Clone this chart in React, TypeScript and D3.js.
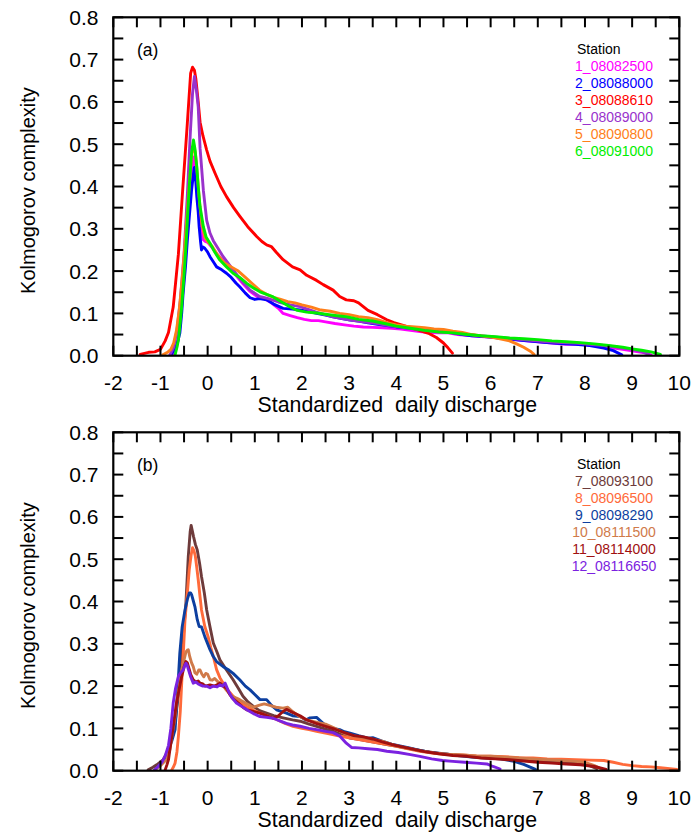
import React from "react";
import * as d3 from "d3";

type P = [number, number];

const stationsA = ["1_08082500", "2_08088000", "3_08088610", "4_08089000", "5_08090800", "6_08091000"];
const colorsA = ["#ff00ff", "#0000ff", "#ff0000", "#9932cc", "#ff7f1a", "#00ee00"];
const stationsB = ["7_08093100", "8_08096500", "9_08098290", "10_08111500", "11_08114000", "12_08116650"];
const colorsB = ["#6e3b3b", "#ff6a3a", "#0d3fa0", "#d07a4a", "#a01010", "#7b22e0"];

const xTickLabels = [-2, -1, 0, 1, 2, 3, 4, 5, 6, 7, 8, 9, 10];
const yTickLabels = [0, 0.1, 0.2, 0.3, 0.4, 0.5, 0.6, 0.7, 0.8];

const s1: P[] = [[-0.72,0.002],[-0.66,0.02],[-0.6,0.06],[-0.54,0.13],[-0.47,0.25],[-0.4,0.37],[-0.34,0.44],[-0.29,0.47],[-0.25,0.44],[-0.2,0.37],[-0.15,0.31],[-0.1,0.275],[-0.05,0.27],[0.0,0.268],[0.1,0.255],[0.2,0.24],[0.3,0.228],[0.45,0.21],[0.6,0.19],[0.75,0.17],[0.9,0.152],[1.05,0.14],[1.2,0.135],[1.35,0.125],[1.5,0.112],[1.6,0.1],[1.75,0.095],[1.9,0.09],[2.05,0.086],[2.2,0.083],[2.35,0.083],[2.5,0.08],[2.7,0.076],[2.9,0.073],[3.1,0.07],[3.3,0.068],[3.5,0.067],[3.7,0.066],[3.9,0.065],[4.1,0.063],[4.3,0.06],[4.5,0.057],[4.7,0.055],[4.9,0.054],[5.1,0.054],[5.3,0.05],[5.5,0.048],[5.8,0.045],[6.1,0.043],[6.4,0.04],[6.7,0.036],[7.0,0.033],[7.3,0.03],[7.6,0.027],[7.9,0.027],[8.2,0.024],[8.5,0.02],[8.8,0.015],[9.1,0.01],[9.3,0.006],[9.4,0.002]];
const s2: P[] = [[-0.78,0.002],[-0.7,0.015],[-0.64,0.03],[-0.59,0.053],[-0.55,0.1],[-0.52,0.147],[-0.47,0.21],[-0.43,0.273],[-0.38,0.34],[-0.34,0.392],[-0.3,0.43],[-0.28,0.445],[-0.25,0.41],[-0.23,0.376],[-0.2,0.34],[-0.18,0.305],[-0.15,0.27],[-0.13,0.25],[-0.1,0.257],[-0.06,0.254],[0.0,0.245],[0.05,0.234],[0.12,0.222],[0.19,0.21],[0.3,0.203],[0.4,0.195],[0.5,0.185],[0.6,0.172],[0.68,0.163],[0.8,0.148],[0.9,0.137],[1.0,0.133],[1.1,0.135],[1.25,0.132],[1.4,0.122],[1.6,0.112],[1.8,0.11],[1.96,0.108],[2.15,0.104],[2.31,0.1],[2.5,0.096],[2.66,0.092],[2.85,0.088],[3.0,0.085],[3.2,0.082],[3.4,0.078],[3.6,0.074],[3.8,0.071],[4.0,0.068],[4.2,0.066],[4.4,0.064],[4.6,0.062],[4.8,0.06],[5.0,0.058],[5.2,0.054],[5.4,0.05],[5.6,0.047],[5.8,0.046],[6.0,0.044],[6.3,0.04],[6.6,0.037],[6.9,0.034],[7.2,0.031],[7.5,0.029],[7.8,0.027],[8.1,0.024],[8.4,0.018],[8.6,0.012],[8.78,0.002]];
const s3: P[] = [[-1.43,0.003],[-1.25,0.008],[-1.12,0.009],[-1.0,0.015],[-0.9,0.035],[-0.83,0.055],[-0.73,0.115],[-0.62,0.24],[-0.53,0.39],[-0.43,0.55],[-0.36,0.668],[-0.32,0.682],[-0.28,0.675],[-0.25,0.655],[-0.2,0.6],[-0.16,0.552],[-0.1,0.52],[-0.02,0.486],[0.05,0.46],[0.155,0.432],[0.28,0.4],[0.4,0.376],[0.55,0.35],[0.68,0.33],[0.85,0.305],[1.04,0.282],[1.15,0.27],[1.25,0.262],[1.35,0.258],[1.45,0.245],[1.6,0.227],[1.8,0.21],[1.96,0.203],[2.1,0.19],[2.31,0.178],[2.45,0.168],[2.66,0.155],[2.8,0.14],[2.94,0.132],[3.1,0.13],[3.2,0.125],[3.4,0.107],[3.6,0.097],[3.8,0.085],[3.95,0.078],[4.2,0.07],[4.5,0.059],[4.7,0.052],[4.85,0.043],[5.0,0.03],[5.1,0.018],[5.19,0.006]];
const s4: P[] = [[-0.8,0.002],[-0.72,0.02],[-0.65,0.06],[-0.58,0.13],[-0.5,0.24],[-0.43,0.38],[-0.37,0.52],[-0.32,0.62],[-0.28,0.66],[-0.24,0.63],[-0.2,0.589],[-0.16,0.49],[-0.09,0.39],[-0.02,0.32],[0.05,0.29],[0.12,0.272],[0.33,0.234],[0.54,0.203],[0.7,0.18],[0.9,0.155],[1.1,0.14],[1.25,0.136],[1.5,0.127],[1.75,0.12],[1.96,0.116],[2.3,0.103],[2.66,0.092],[3.02,0.084],[3.3,0.08],[3.6,0.076],[3.9,0.07],[4.2,0.066],[4.5,0.062],[4.8,0.058],[5.1,0.056],[5.4,0.052],[5.7,0.048],[6.0,0.045],[6.3,0.042],[6.6,0.039],[6.9,0.036],[7.2,0.033],[7.5,0.031],[7.8,0.03],[8.1,0.027],[8.4,0.024],[8.7,0.02],[9.0,0.015],[9.2,0.01],[9.35,0.003]];
const s5: P[] = [[-0.95,0.002],[-0.85,0.008],[-0.78,0.015],[-0.72,0.03],[-0.66,0.06],[-0.6,0.11],[-0.54,0.18],[-0.47,0.28],[-0.4,0.39],[-0.35,0.46],[-0.3,0.5],[-0.26,0.48],[-0.22,0.43],[-0.17,0.36],[-0.12,0.31],[-0.06,0.28],[0.0,0.27],[0.1,0.258],[0.2,0.24],[0.35,0.22],[0.5,0.21],[0.65,0.2],[0.8,0.185],[0.95,0.17],[1.1,0.155],[1.25,0.145],[1.4,0.138],[1.55,0.133],[1.7,0.128],[1.85,0.125],[2.0,0.12],[2.2,0.115],[2.4,0.108],[2.6,0.105],[2.8,0.1],[3.0,0.097],[3.2,0.092],[3.4,0.09],[3.6,0.085],[3.8,0.078],[4.0,0.073],[4.2,0.07],[4.4,0.068],[4.6,0.066],[4.8,0.063],[5.0,0.062],[5.2,0.058],[5.4,0.055],[5.6,0.05],[5.8,0.047],[6.0,0.044],[6.2,0.04],[6.4,0.035],[6.55,0.028],[6.7,0.02],[6.85,0.01],[6.92,0.003]];
const s6: P[] = [[-0.69,0.002],[-0.65,0.02],[-0.62,0.037],[-0.58,0.08],[-0.55,0.116],[-0.5,0.19],[-0.46,0.258],[-0.42,0.34],[-0.38,0.415],[-0.34,0.48],[-0.3,0.51],[-0.27,0.49],[-0.23,0.447],[-0.2,0.4],[-0.16,0.352],[-0.12,0.325],[-0.09,0.305],[-0.03,0.28],[0.05,0.266],[0.15,0.245],[0.26,0.226],[0.4,0.21],[0.54,0.195],[0.68,0.185],[0.83,0.171],[0.97,0.16],[1.11,0.151],[1.25,0.145],[1.39,0.139],[1.55,0.128],[1.74,0.116],[1.9,0.107],[2.1,0.103],[2.31,0.101],[2.5,0.098],[2.7,0.095],[2.94,0.092],[3.2,0.086],[3.5,0.082],[3.8,0.075],[4.0,0.07],[4.3,0.065],[4.6,0.06],[4.9,0.056],[5.2,0.054],[5.5,0.05],[5.8,0.047],[6.1,0.045],[6.4,0.042],[6.7,0.04],[7.0,0.038],[7.3,0.035],[7.6,0.033],[7.9,0.031],[8.2,0.028],[8.5,0.024],[8.8,0.02],[9.0,0.016],[9.2,0.013],[9.4,0.009],[9.6,0.003]];

const s7: P[] = [[-1.26,0.002],[-1.16,0.008],[-1.08,0.014],[-0.94,0.026],[-0.83,0.05],[-0.76,0.08],[-0.69,0.113],[-0.62,0.18],[-0.55,0.27],[-0.5,0.34],[-0.46,0.397],[-0.41,0.507],[-0.37,0.565],[-0.35,0.58],[-0.32,0.565],[-0.3,0.554],[-0.26,0.535],[-0.22,0.522],[-0.17,0.49],[-0.13,0.459],[-0.07,0.42],[-0.02,0.38],[0.05,0.34],[0.12,0.302],[0.2,0.28],[0.26,0.262],[0.4,0.238],[0.54,0.215],[0.65,0.195],[0.75,0.176],[0.86,0.162],[0.97,0.152],[1.1,0.142],[1.25,0.136],[1.4,0.13],[1.6,0.125],[1.8,0.12],[1.96,0.117],[2.15,0.11],[2.31,0.105],[2.5,0.098],[2.66,0.093],[2.85,0.085],[3.02,0.077],[3.2,0.074],[3.4,0.07],[3.6,0.066],[3.8,0.062],[4.0,0.058],[4.3,0.052],[4.6,0.046],[4.9,0.041],[5.2,0.038],[5.5,0.035],[5.8,0.032],[6.1,0.03],[6.4,0.028],[6.7,0.026],[7.0,0.024],[7.3,0.022],[7.6,0.02],[7.9,0.017],[8.1,0.012],[8.25,0.005]];
const s8: P[] = [[-0.76,0.002],[-0.72,0.01],[-0.69,0.018],[-0.65,0.045],[-0.62,0.081],[-0.58,0.14],[-0.55,0.207],[-0.51,0.29],[-0.48,0.357],[-0.43,0.42],[-0.39,0.475],[-0.35,0.51],[-0.32,0.527],[-0.29,0.52],[-0.26,0.507],[-0.23,0.48],[-0.2,0.452],[-0.16,0.41],[-0.13,0.38],[-0.06,0.341],[0.01,0.317],[0.07,0.29],[0.12,0.27],[0.19,0.239],[0.26,0.22],[0.33,0.207],[0.43,0.19],[0.54,0.176],[0.68,0.163],[0.83,0.152],[0.97,0.143],[1.11,0.136],[1.3,0.128],[1.46,0.121],[1.64,0.112],[1.81,0.105],[2.0,0.1],[2.15,0.097],[2.31,0.093],[2.55,0.088],[2.8,0.082],[3.0,0.078],[3.3,0.072],[3.6,0.066],[3.9,0.06],[4.2,0.053],[4.5,0.046],[4.8,0.041],[5.1,0.038],[5.4,0.037],[5.7,0.035],[6.0,0.034],[6.3,0.033],[6.6,0.031],[6.9,0.03],[7.2,0.028],[7.5,0.027],[7.8,0.026],[8.1,0.025],[8.4,0.024],[8.6,0.02],[8.8,0.015],[9.0,0.012],[9.2,0.01],[9.4,0.009],[9.6,0.007],[9.8,0.005],[9.95,0.003]];
const s9: P[] = [[-1.12,0.002],[-1.05,0.01],[-0.97,0.018],[-0.9,0.03],[-0.83,0.05],[-0.76,0.07],[-0.69,0.097],[-0.64,0.18],[-0.59,0.278],[-0.54,0.34],[-0.48,0.38],[-0.43,0.405],[-0.39,0.42],[-0.36,0.42],[-0.34,0.416],[-0.3,0.4],[-0.27,0.388],[-0.22,0.357],[-0.18,0.341],[-0.13,0.34],[-0.06,0.317],[0.05,0.286],[0.12,0.27],[0.19,0.258],[0.33,0.246],[0.45,0.238],[0.54,0.23],[0.68,0.215],[0.8,0.2],[0.9,0.191],[1.0,0.18],[1.11,0.168],[1.25,0.168],[1.35,0.155],[1.46,0.144],[1.56,0.14],[1.67,0.136],[1.8,0.13],[1.96,0.128],[2.08,0.12],[2.17,0.125],[2.31,0.126],[2.42,0.115],[2.52,0.105],[2.66,0.1],[2.8,0.097],[2.9,0.092],[3.02,0.089],[3.2,0.083],[3.4,0.077],[3.5,0.078],[3.7,0.07],[3.9,0.063],[4.1,0.058],[4.3,0.053],[4.5,0.048],[4.7,0.044],[5.0,0.04],[5.3,0.036],[5.6,0.032],[5.9,0.03],[6.2,0.028],[6.5,0.022],[6.7,0.015],[6.85,0.008],[6.95,0.003]];
const s10: P[] = [[-1.12,0.002],[-1.0,0.012],[-0.93,0.02],[-0.87,0.026],[-0.8,0.05],[-0.76,0.081],[-0.7,0.12],[-0.66,0.16],[-0.6,0.2],[-0.55,0.238],[-0.5,0.262],[-0.46,0.281],[-0.43,0.285],[-0.41,0.286],[-0.38,0.27],[-0.34,0.255],[-0.305,0.246],[-0.27,0.232],[-0.23,0.228],[-0.19,0.238],[-0.16,0.238],[-0.12,0.228],[-0.08,0.222],[-0.04,0.23],[0.0,0.228],[0.05,0.215],[0.1,0.214],[0.15,0.218],[0.22,0.21],[0.3,0.205],[0.4,0.19],[0.5,0.178],[0.6,0.172],[0.68,0.168],[0.8,0.16],[0.97,0.15],[1.1,0.155],[1.2,0.158],[1.3,0.155],[1.45,0.15],[1.6,0.148],[1.7,0.15],[1.8,0.14],[1.95,0.128],[2.1,0.12],[2.3,0.115],[2.5,0.11],[2.7,0.1],[2.9,0.088],[3.1,0.082],[3.3,0.078],[3.5,0.074],[3.7,0.07],[3.9,0.062],[4.1,0.056],[4.3,0.052],[4.5,0.047],[4.8,0.042],[5.1,0.039],[5.4,0.037],[5.7,0.035],[6.0,0.034],[6.3,0.032],[6.6,0.03],[6.9,0.028],[7.2,0.026],[7.5,0.024],[7.8,0.022],[8.0,0.02],[8.2,0.012],[8.35,0.004]];
const s11: P[] = [[-0.9,0.002],[-0.86,0.015],[-0.83,0.026],[-0.8,0.05],[-0.76,0.08],[-0.71,0.12],[-0.66,0.16],[-0.6,0.195],[-0.55,0.223],[-0.5,0.245],[-0.46,0.258],[-0.43,0.255],[-0.41,0.247],[-0.36,0.228],[-0.305,0.215],[-0.25,0.21],[-0.2,0.212],[-0.16,0.207],[-0.1,0.205],[-0.05,0.2],[0.05,0.203],[0.15,0.2],[0.26,0.207],[0.33,0.2],[0.4,0.195],[0.47,0.18],[0.54,0.17],[0.65,0.16],[0.75,0.15],[0.83,0.144],[0.97,0.14],[1.11,0.136],[1.25,0.13],[1.39,0.124],[1.5,0.13],[1.6,0.14],[1.67,0.145],[1.8,0.138],[1.96,0.13],[2.1,0.12],[2.3,0.112],[2.5,0.105],[2.7,0.098],[2.9,0.09],[3.1,0.083],[3.3,0.08],[3.5,0.075],[3.7,0.068],[3.9,0.062],[4.1,0.057],[4.3,0.052],[4.6,0.045],[4.9,0.04],[5.2,0.036],[5.5,0.034],[5.8,0.03],[6.1,0.028],[6.4,0.026],[6.7,0.023],[7.0,0.02],[7.3,0.018],[7.6,0.016],[7.9,0.014],[8.2,0.01],[8.45,0.003]];
const s12: P[] = [[-1.12,0.002],[-1.05,0.01],[-0.97,0.02],[-0.9,0.035],[-0.83,0.06],[-0.78,0.1],[-0.73,0.16],[-0.68,0.195],[-0.62,0.223],[-0.57,0.232],[-0.52,0.238],[-0.48,0.25],[-0.46,0.254],[-0.43,0.248],[-0.41,0.24],[-0.36,0.222],[-0.305,0.207],[-0.25,0.21],[-0.2,0.205],[-0.16,0.203],[-0.1,0.2],[-0.02,0.2],[0.05,0.196],[0.12,0.2],[0.2,0.198],[0.26,0.203],[0.32,0.2],[0.37,0.207],[0.45,0.186],[0.52,0.172],[0.61,0.16],[0.72,0.152],[0.83,0.144],[0.97,0.135],[1.11,0.128],[1.25,0.126],[1.39,0.124],[1.53,0.118],[1.67,0.112],[1.8,0.108],[1.96,0.105],[2.15,0.1],[2.31,0.097],[2.5,0.093],[2.66,0.09],[2.8,0.082],[2.94,0.065],[3.05,0.055],[3.2,0.054],[3.4,0.052],[3.6,0.05],[3.8,0.046],[4.04,0.043],[4.3,0.038],[4.5,0.034],[4.75,0.028],[4.98,0.024],[5.2,0.022],[5.45,0.02],[5.7,0.018],[5.92,0.016],[6.05,0.01],[6.2,0.004]];

const seriesA = [s1, s2, s3, s4, s5, s6];
const seriesB = [s7, s8, s9, s10, s11, s12];

const W = 694;
const H = 835;
const LEFT = 113.3;
const RIGHT = 679.3;
const FONT = "'Liberation Sans', Arial, Helvetica, sans-serif";

function Panel({ top, bottom, tag, names, colors, series }: { top: number; bottom: number; tag: string; names: string[]; colors: string[]; series: P[][] }) {
  const x = d3.scaleLinear().domain([-2, 10]).range([LEFT, RIGHT]);
  const y = d3.scaleLinear().domain([0, 0.8]).range([bottom, top]);
  const line = d3.line<P>().x((d) => x(d[0])).y((d) => y(d[1])).curve(d3.curveLinear);
  const xMinor = d3.range(-2, 10.001, 0.5);
  const yMinor = d3.range(0, 0.8001, 0.05);
  const tl = 10;
  const fmt = d3.format(".1f");
  return (
    <g>
      <defs>
        <clipPath id={"clip" + tag}>
          <rect x={LEFT} y={top} width={RIGHT - LEFT} height={bottom - top} />
        </clipPath>
      </defs>
      <g clipPath={`url(#clip${tag})`}>
        {series.map((s, i) => (
          <path key={i} d={line(s) || ""} fill="none" stroke={colors[i]} strokeWidth={2.9} strokeLinejoin="round" strokeLinecap="round" />
        ))}
      </g>
      <g stroke="#000" strokeWidth={2}>
        {xMinor.map((v, i) => (
          <g key={"x" + i}>
            <line x1={x(v)} x2={x(v)} y1={bottom} y2={bottom - tl} />
            <line x1={x(v)} x2={x(v)} y1={top} y2={top + tl} />
          </g>
        ))}
        {yMinor.map((v, i) => (
          <g key={"y" + i}>
            <line x1={LEFT} x2={LEFT + tl} y1={y(v)} y2={y(v)} />
            <line x1={RIGHT} x2={RIGHT - tl} y1={y(v)} y2={y(v)} />
          </g>
        ))}
        <rect x={LEFT} y={top} width={RIGHT - LEFT} height={bottom - top} fill="none" strokeWidth={2.2} />
      </g>
      <g fontFamily={FONT} fill="#000">
        {xTickLabels.map((v) => (
          <text key={"xl" + v} x={x(v)} y={bottom + 34} textAnchor="middle" fontSize={21}>{String(v)}</text>
        ))}
        {yTickLabels.map((v) => (
          <text key={"yl" + v} x={98.5} y={y(v) + 7.5} textAnchor="end" fontSize={21}>{fmt(v)}</text>
        ))}
        <text x={(LEFT + RIGHT) / 2 + 1} y={bottom + 56} textAnchor="middle" fontSize={21.3} xmlSpace="preserve">{"Standardized  daily discharge"}</text>
        <text transform={`translate(35,${(top + bottom) / 2 + 4}) rotate(-90)`} textAnchor="middle" fontSize={20}>Kolmogorov complexity</text>
      </g>
      <text x={137} y={top + 39} fontFamily={FONT} fontSize={17.5} fill="#000">{`(${tag})`}</text>
      <g fontFamily={FONT} fontSize={14}>
        <text x={577} y={top + 37} fill="#000">Station</text>
        {names.map((n, i) => (
          <text key={n} x={614} y={top + 37 + 16.9 * (i + 1)} textAnchor="middle" fill={colors[i]}>{n}</text>
        ))}
      </g>
    </g>
  );
}

export default function App() {
  return (
    <svg width={W} height={H} viewBox={`0 0 ${W} ${H}`} style={{ position: "absolute", left: 0, top: 0, background: "#fff" }}>
      <rect x={0} y={0} width={W} height={H} fill="#fff" />
      <Panel top={17.3} bottom={355.7} tag="a" names={stationsA} colors={colorsA} series={seriesA} />
      <Panel top={432.3} bottom={770.7} tag="b" names={stationsB} colors={colorsB} series={seriesB} />
    </svg>
  );
}
